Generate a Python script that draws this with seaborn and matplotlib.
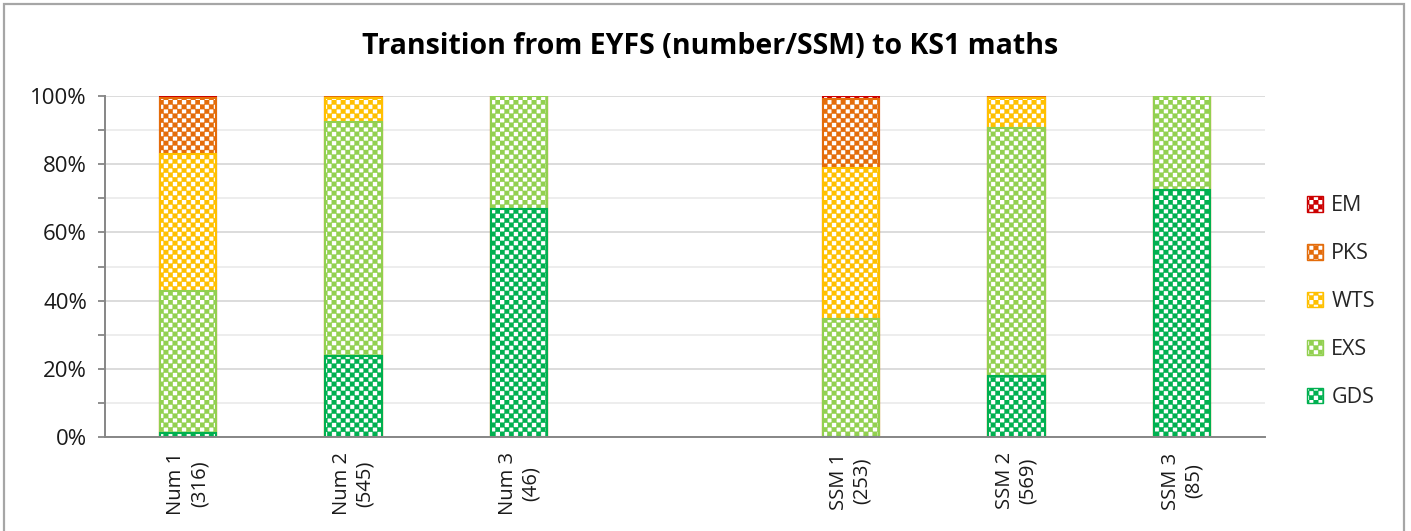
import warnings
import pandas as pd
import matplotlib
matplotlib.use("Agg")
import matplotlib.pyplot as plt
import matplotlib.hatch as mhatch
import matplotlib.patches as mpatches
from matplotlib.path import Path
from matplotlib.ticker import MultipleLocator, FuncFormatter
import seaborn as sns

warnings.filterwarnings("ignore")

# data (percent of each group)
groups = ["Num 1\n(316)", "Num 2\n(545)", "Num 3\n(46)",
          "SSM 1\n(253)", "SSM 2\n(569)", "SSM 3\n(85)"]
order = groups[:3] + [" "] + groups[3:]
levels = ["GDS", "EXS", "WTS", "PKS", "EM"]
gds = [1.2, 23.7, 67.0, 0.0, 17.8, 72.4]
exs = [41.7, 68.8, 33.0, 34.5, 72.7, 27.6]
wts = [40.1, 6.8, 0.0, 44.3, 8.8, 0.0]
pks = [16.3, 0.7, 0.0, 20.3, 0.7, 0.0]
em = [0.7, 0.0, 0.0, 0.9, 0.0, 0.0]
colours = {"GDS": "#00B050", "EXS": "#92D050", "WTS": "#FFC000",
           "PKS": "#E46C0A", "EM": "#CC0000"}


# checkerboard hatch ("c") like the excel pattern fill
class CheckerHatch(mhatch.HatchPatternBase):
    def __init__(self, hatch, density):
        self.n = 22 if "c" in hatch else 0
        self.num_vertices = 5 * (self.n * self.n // 2)

    def set_vertices_and_codes(self, vertices, codes):
        s = 1.0 / self.n
        k = 0
        for i in range(self.n):
            for j in range(self.n):
                if (i + j) % 2:
                    continue
                x0, y0 = j * s, i * s
                vertices[k:k + 5] = [(x0, y0), (x0 + s, y0), (x0 + s, y0 + s),
                                     (x0, y0 + s), (x0, y0)]
                codes[k:k + 5] = [Path.MOVETO, Path.LINETO, Path.LINETO,
                                  Path.LINETO, Path.CLOSEPOLY]
                k += 5


mhatch._hatch_types.append(CheckerHatch)

sns.set_style("white")
plt.rcParams["font.family"] = ["Open Sans", "DejaVu Sans"]
plt.rcParams["hatch.linewidth"] = 0.3

df = pd.DataFrame({"group": groups, "GDS": gds, "EXS": exs, "WTS": wts,
                   "PKS": pks, "EM": em})
cum = df[levels].cumsum(axis=1)
cum["group"] = df["group"]

fig = plt.figure(figsize=(14.11, 5.31), dpi=100)
ax = fig.add_axes([105 / 1411, 94 / 531, 1160 / 1411, 341 / 531])

# layered cumulative bars, tallest first
for lev in reversed(levels):
    n0 = len(ax.patches)
    sns.barplot(data=cum, x="group", y=lev, order=order, width=0.34,
                errorbar=None, ax=ax)
    for p in ax.patches[n0:]:
        p.set_facecolor("white")
        p.set_edgecolor(colours[lev])
        p.set_hatch("c")
        p.set_linewidth(1.5)

ax.set_ylim(0, 100)
ax.set_xlim(-0.5, len(order) - 0.5)
ax.yaxis.set_major_locator(MultipleLocator(20))
ax.yaxis.set_minor_locator(MultipleLocator(10))
ax.yaxis.set_major_formatter(FuncFormatter(lambda v, _: f"{v:.0f}%"))
ax.grid(axis="y", which="major", color="#d9d9d9", lw=1.3)
ax.grid(axis="y", which="minor", color="#ececec", lw=1.3)
ax.set_axisbelow(True)
ax.set_xlabel("")
ax.set_ylabel("")

ax.set_xticks(range(len(order)))
ax.set_xticklabels(order, rotation=90, fontsize=14.5, color="#1a1a1a",
                   multialignment="center")
ax.set_xticks([i + 0.5 for i in range(len(order) - 1)], minor=True)
ax.tick_params(axis="x", which="major", length=0, pad=11)
ax.tick_params(axis="x", which="minor", length=5, color="#868686", width=1.3)
ax.tick_params(axis="y", which="both", length=5, color="#868686", width=1.3,
               labelsize=16, labelcolor="#1a1a1a", pad=8, left=True)

for side in ["top", "right"]:
    ax.spines[side].set_visible(False)
for side in ["left", "bottom"]:
    ax.spines[side].set_color("#868686")
    ax.spines[side].set_linewidth(1.4)

handles = [mpatches.Patch(facecolor="white", edgecolor=colours[l], hatch="c",
                          linewidth=1.0, label=l) for l in reversed(levels)]
fig.legend(handles=handles, loc="center left",
           bbox_to_anchor=(1298 / 1411, 0.432), frameon=False, fontsize=15.5,
           handlelength=0.75, handleheight=0.75, handletextpad=0.4,
           labelspacing=1.25, borderaxespad=0)

fig.text(0.503, 1 - 46 / 531, "Transition from EYFS (number/SSM) to KS1 maths",
         ha="center", va="center", fontsize=20.5, fontweight="bold",
         color="#000000")

fig.patches.append(mpatches.Rectangle((4 / 1411, -0.02), 1400 / 1411,
                                      1.02 - 4 / 531, transform=fig.transFigure,
                                      fill=False, edgecolor="#a6a6a6", lw=1.6))

fig.savefig("out.png", dpi=100)
